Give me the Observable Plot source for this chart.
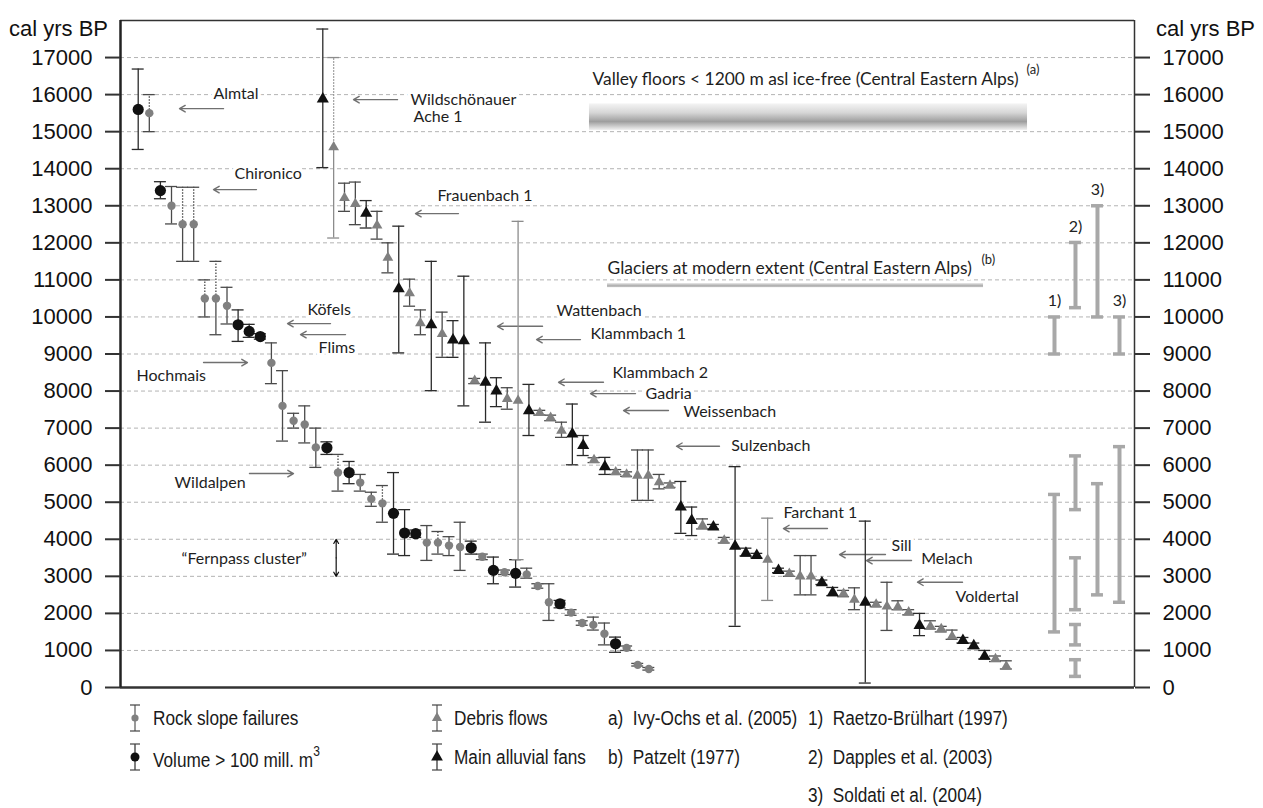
<!DOCTYPE html>
<html><head><meta charset="utf-8">
<script src="https://cdn.jsdelivr.net/npm/d3@7"></script>
<script src="https://cdn.jsdelivr.net/npm/@observablehq/plot@0.6"></script>
<style>
body{margin:0;background:#fff;}
#wrap{position:relative;width:1263px;height:808px;overflow:hidden;background:#fff;}
.lg{position:absolute;font-family:"Liberation Sans Narrow","Liberation Sans",sans-serif;font-size:20px;color:#1a1a1a;line-height:22px;white-space:nowrap;transform:translateY(-50%) scaleX(0.86);transform-origin:left center;}
.lg sup{font-size:14px;position:relative;top:-3px;}
.ic{position:absolute;transform:translate(-50%,-50%);}
</style></head><body><div id="wrap"></div>
<script>
// ---------- DATA ----------
// Rock slope failures (ordered as plotted), ages in cal yrs BP
const rockAge = [15600,15500,13410,13000,12500,12500,10500,10500,10300,9790,9610,9470,8760,7600,7200,7100,6480,6470,5800,5800,5530,5090,4970,4700,4170,4150,3910,3910,3830,3790,3770,3530,3160,3110,3080,3050,2740,2300,2260,2020,1740,1690,1450,1180,1070,610,500];
const rockMax = [16690,16000,13650,13520,13500,13500,11000,11500,10800,10190,9800,9550,9300,8550,7400,7600,7000,6630,6290,6100,5750,5270,5450,5800,4800,4250,4370,4210,4070,4460,3950,3600,3520,3170,3450,3220,2800,2800,2350,2100,1800,1900,1740,1360,1120,650,540];
const rockMin = [14520,15000,13190,12510,11500,11500,10000,9520,9810,9340,9450,9400,8200,6650,7000,6600,5940,6290,5300,5500,5300,4890,4460,3600,3560,4050,3430,3600,3560,3160,3600,3450,2800,3050,2710,2950,2680,1810,2150,1950,1680,1550,1150,950,1000,580,470];
const rockLarge = [0,2,9,10,11,17,19,23,24,25,30,32,34,38,43];   // volume > 100 mill. m3
const rockDotted = [1,4,5,6,7,18,22,27];                         // upper range dotted

// Debris flows / main alluvial fans
const debrisAge = [15880,14580,13210,13050,12800,12470,11600,10760,10640,9830,9790,9540,9380,9360,8280,8240,8000,7790,7740,7470,7410,7280,6930,6840,6530,6140,5960,5810,5750,5720,5720,5540,5450,4870,4510,4370,4330,3970,3810,3620,3560,3450,3160,3070,3000,3000,2830,2560,2530,2370,2300,2240,2190,2170,2030,1670,1650,1580,1380,1270,1130,840,770,570];
const debrisMax = [17770,17000,13610,13640,13140,12850,12000,12450,11020,10190,11500,10130,9900,11100,8340,9300,8360,8090,12580,8180,7480,7350,7160,7650,6800,6200,6210,5880,5820,6410,6410,5750,5520,5560,4870,4550,4400,4050,5960,3760,3620,4570,3220,3140,3560,3560,2900,2700,2620,2690,4490,2300,2840,2340,2100,2000,1800,1650,1550,1350,1200,1000,850,720];
const debrisMin = [14030,12130,12850,12490,12400,12100,11190,9030,10290,9520,8010,8910,8910,7600,8200,7160,7580,7510,3450,6800,7350,7200,6750,6010,6260,6070,5750,5750,5700,5050,5050,5360,5400,4160,4100,4280,4280,3900,1650,3550,3500,2350,3100,3000,2500,2500,2780,2480,2450,2100,120,2180,1540,2100,1960,1400,1580,1500,1300,1200,1050,770,700,500];
const debrisMain = [0,4,7,10,12,13,15,16,19,23,24,26,33,34,36,38,39,40,42,46,47,50,55,59,60,61];
const debrisDotted = [1];
const debrisLightBar = [1,18,41];

// Reference ranges on the right (column = source)
const refCol  = [0,0,1,1,1,1,1,2,2,3,3];
const refLow  = [9000,1500,10250,4800,2100,1150,300,10000,2500,9000,2300];
const refHigh = [10000,5210,12010,6250,3500,1700,750,13000,5500,10000,6500];
const refColLabel = ["1)","2)","3)","3)"];

// Y axis ticks
const yTicks = d3.range(0, 18000, 1000);
const gridTicks = d3.range(1000, 18000, 1000);

// Annotations (label, x in slot units = left edge, y in cal yrs BP)
const annLabel = ["Almtal","Chironico","Wildschönauer","Ache 1","Frauenbach 1","Köfels","Flims","Hochmais","Wildalpen","\u201CFernpass cluster\u201D","Wattenbach","Klammbach 1","Klammbach 2","Gadria","Weissenbach","Sulzenbach","Farchant 1","Sill","Melach","Voldertal"];
const annX = [9.17,11.24,28.6,28.9,31.26,18.44,19.53,1.58,5.33,6.02,43.0,46.35,48.52,51.78,55.52,60.23,65.38,76.04,78.97,82.35];
const annY = [16030,13868,15864,15406,13274,10198,9173,8418,5531,3480,10161,9540,8499,7932,7447,6510,4722,3831,3480,2436];
// Arrows (from x1 to x2 at y)
const arrX1 = [10.16,13.41,27.32,33.33,20.71,22.19,8.19,12.72,41.62,45.36,47.63,50.79,54.04,59.07,69.72,75.44,78.01,83.04];
const arrX2 = [5.82,9.17,22.98,29.09,16.47,17.75,12.52,17.06,37.18,41.03,43.2,46.35,49.61,54.83,65.38,70.91,73.57,78.6];
const arrY  = [15621,13436,15864,12789,9821,9524,8769,5774,9748,9389,8237,7932,7474,6510,4290,3588,3426,2841];
// Headers with bands
const headLabel = ["Valley floors < 1200 m asl ice-free (Central Eastern Alps)","Glaciers at modern extent (Central Eastern Alps)"];
const headSup = ["(a)","(b)"];
const headX = [46.55,48.03];
const headSupX = [89.35,84.9];
const headY = [16404,11305];
const headSupY = [16660,11540];
const bandX1 = [46.25,48.03], bandX2 = [89.45,85.11], bandY1 = [15030,10790], bandY2 = [15750,10900];
const fernpassX = 21.27, fernpassRange = [3000,4000];

// ---------- LAYOUT ----------
const rockStart = 1.746, rockStep = 1.0947;
const debrisStart = 19.95, debrisStep = 1.070;
const refColX = [92.11,94.18,96.35,98.52];
const cap = 0.59;
const GRAY = "#808080", BLACK = "#111111", BARDARK = "#2a2a2a", BARGRAY = "#8c8c8c";

const rock = rockAge.map((v,i)=>({x: rockStart+i*rockStep, y:v, lo:rockMin[i], hi:rockMax[i],
  big: rockLarge.includes(i), dotted: rockDotted.includes(i), light:false}));
const debris = debrisAge.map((v,i)=>({x: debrisStart+i*debrisStep, y:v, lo:debrisMin[i], hi:debrisMax[i],
  big: debrisMain.includes(i), dotted: debrisDotted.includes(i), light: debrisLightBar.includes(i)}));
const all = rock.concat(debris);
const barColor = d => d.light ? BARGRAY : (d.big ? BARDARK : "#4a4a4a");

const refs = refLow.map((lo,i)=>({x: refColX[refCol[i]], lo, hi: refHigh[i]}));
const refLabels = refColLabel.map((t,c)=>({t, x: refColX[c], y: refHigh[refCol.indexOf(c)]}));

const anns = annLabel.map((t,i)=>({t, x: annX[i], y: annY[i]}));
const arrows = arrX1.map((x1,i)=>({x1, x2: arrX2[i], y: arrY[i]}));
const heads = headLabel.map((t,i)=>({t, x: headX[i], y: headY[i], s: headSup[i], sx: headSupX[i], sy: headSupY[i]}));
const bands = bandX1.map((x1,i)=>({x1, x2: bandX2[i], y1: bandY1[i], y2: bandY2[i], g: i===0 ? "url(#gValley)" : "url(#gGlacier)"}));

const axisOpts = {ticks: yTicks, tickSize: 15, tickPadding: 13, tickFormat: d=>String(d), label: null,
  fontSize: 22, stroke: "#333", strokeWidth: 2, fill: "#111"};

const chart = Plot.plot({
  width: 1263, height: 700,
  marginLeft: 120, marginRight: 129, marginTop: 20, marginBottom: 13,
  style: {fontFamily: "Liberation Sans, Arial, sans-serif", background: "#fff"},
  x: {domain: [0,100], axis: null},
  y: {domain: [0,18000]},
  color: {type: "identity"},
  marks: [
    Plot.ruleY(gridTicks, {stroke: "#b3b3b3", strokeWidth: 1, strokeDasharray: "4,3"}),
    // header bands
    Plot.rect(bands, {x1:"x1", x2:"x2", y1:"y1", y2:"y2", fill: "g"}),
    // annotation texts with white halo
    Plot.text(anns, {x:"x", y:"y", text:"t", textAnchor: "start",
      fontFamily: "Lato, Open Sans, sans-serif", fontSize: 16, fill: "#1e1e1e", stroke: "white", strokeWidth: 7}),
    Plot.text(heads, {x:"x", y:"y", text:"t", textAnchor:"start", fontFamily:"Lato, Open Sans, sans-serif", fontSize: 17.4,
      fill:"#1e1e1e", stroke:"white", strokeWidth: 7}),
    Plot.text(heads, {x:"sx", y:"sy", text:"s", textAnchor:"start", fontFamily:"Lato, Open Sans, sans-serif", fontSize: 13, fill:"#1e1e1e"}),
    // arrows
    Plot.arrow(arrows, {x1:"x1", x2:"x2", y1:"y", y2:"y", stroke:"#707070", strokeWidth: 1.4, headLength: 7}),
    Plot.arrow([fernpassRange[0], fernpassRange[1]], {x1: fernpassX, x2: fernpassX, y1: (fernpassRange[0]+fernpassRange[1])/2, y2: d=>d,
      stroke: "#111", strokeWidth: 1.2, headLength: 6}),
    // reference ranges (right)
    Plot.ruleX(refs, {x:"x", y1:"lo", y2:"hi", stroke:"#a8a8a8", strokeWidth: 4}),
    Plot.ruleY(refs, {y:"lo", x1: d=>d.x-cap, x2: d=>d.x+cap, stroke:"#a8a8a8", strokeWidth: 3.5}),
    Plot.ruleY(refs, {y:"hi", x1: d=>d.x-cap, x2: d=>d.x+cap, stroke:"#a8a8a8", strokeWidth: 3.5}),
    Plot.text(refLabels, {x:"x", y:"y", text:"t", dy: -16, fontFamily:"Lato, Open Sans, sans-serif", fontSize: 16, fill:"#222"}),
    // error bars
    Plot.ruleX(all, {x:"x", y1:"lo", y2:"y", stroke: barColor, strokeWidth: 1.3}),
    Plot.ruleX(all.filter(d=>!d.dotted), {x:"x", y1:"y", y2:"hi", stroke: barColor, strokeWidth: 1.3}),
    Plot.ruleX(all.filter(d=>d.dotted), {x:"x", y1:"y", y2:"hi", stroke: barColor, strokeWidth: 1.3, strokeDasharray: "1.5,1.5"}),
    Plot.ruleY(all, {y:"hi", x1: d=>d.x-cap, x2: d=>d.x+cap, stroke: barColor, strokeWidth: 1.3}),
    Plot.ruleY(all, {y:"lo", x1: d=>d.x-cap, x2: d=>d.x+cap, stroke: barColor, strokeWidth: 1.3}),
    // points
    Plot.dot(rock.filter(d=>!d.big), {x:"x", y:"y", r: 4.2, fill: GRAY, stroke: "none"}),
    Plot.dot(rock.filter(d=>d.big), {x:"x", y:"y", r: 5.6, fill: BLACK, stroke: "none"}),
    Plot.dot(debris.filter(d=>!d.big), {x:"x", y:"y", r: 4.0, symbol: "triangle", fill: GRAY, stroke: "none"}),
    Plot.dot(debris.filter(d=>d.big), {x:"x", y:"y", r: 4.5, symbol: "triangle", fill: BLACK, stroke: "none"}),
    // frame
    Plot.ruleY([18000], {stroke:"#333", strokeWidth: 1.5}),
    Plot.ruleY([0], {stroke:"#333", strokeWidth: 2.5}),
    Plot.ruleX([0], {stroke:"#222", strokeWidth: 2.5}),
    Plot.ruleX([100], {stroke:"#333", strokeWidth: 1.5}),
    // axes
    Plot.axisY({...axisOpts, anchor: "left"}),
    Plot.axisY({...axisOpts, anchor: "right"}),
    Plot.text(["cal yrs BP"], {frameAnchor: "top-left", dx: -62, dy: 0, textAnchor: "middle", fontSize: 22, fill: "#111"}),
    Plot.text(["cal yrs BP"], {frameAnchor: "top-right", dx: 71, dy: 0, textAnchor: "middle", fontSize: 22, fill: "#111"})
  ]
});

const svg = chart.tagName.toLowerCase() === "svg" ? chart : chart.querySelector("svg");
const defs = document.createElementNS("http://www.w3.org/2000/svg", "defs");
defs.innerHTML = `
<linearGradient id="gValley" x1="0" y1="0" x2="0" y2="1">
  <stop offset="0" stop-color="#f4f4f4"/><stop offset="0.35" stop-color="#d6d6d6"/>
  <stop offset="0.68" stop-color="#9e9e9e"/><stop offset="1" stop-color="#f2f2f2"/>
</linearGradient>
<linearGradient id="gGlacier" x1="0" y1="0" x2="0" y2="1">
  <stop offset="0" stop-color="#e4e4e4"/><stop offset="0.7" stop-color="#a9a9a9"/><stop offset="1" stop-color="#d2d2d2"/>
</linearGradient>`;
svg.insertBefore(defs, svg.firstChild);
svg.style.position = "absolute"; svg.style.left = "0"; svg.style.top = "0";
const wrap = document.getElementById("wrap");
wrap.appendChild(chart);

// ---------- LEGEND (HTML below the SVG) ----------
const legendSymbols = [
  {label: "Rock slope failures", sym: "circle", fill: GRAY, col: 0, row: 0},
  {label: "Volume > 100 mill. m", sup: "3", sym: "circle", fill: BLACK, col: 0, row: 1},
  {label: "Debris flows", sym: "triangle", fill: GRAY, col: 1, row: 0},
  {label: "Main alluvial fans", sym: "triangle", fill: BLACK, col: 1, row: 1}
];
const legendRefs = [
  {label: "a)\u00A0\u00A0Ivy-Ochs et al. (2005)", col: 2, row: 0},
  {label: "b)\u00A0\u00A0Patzelt (1977)", col: 2, row: 1},
  {label: "1)\u00A0\u00A0Raetzo-Brülhart (1997)", col: 3, row: 0},
  {label: "2)\u00A0\u00A0Dapples et al. (2003)", col: 3, row: 1},
  {label: "3)\u00A0\u00A0Soldati et al. (2004)", col: 3, row: 2}
];
const colTextX = [153, 454, 608, 808], colIconX = [135, 437], rowY = [718, 757, 795];
function addText(item){
  const d = document.createElement("div");
  d.className = "lg";
  d.style.left = colTextX[item.col] + "px";
  d.style.top = rowY[item.row] + "px";
  d.textContent = item.label;
  if (item.sup){ const s = document.createElement("sup"); s.textContent = item.sup; d.appendChild(s); }
  wrap.appendChild(d);
}
legendSymbols.forEach(item=>{
  addText(item);
  const s = d3.create("svg").attr("class","ic").attr("width",16).attr("height",30)
    .style("left", colIconX[item.col]+"px").style("top", rowY[item.row]+"px");
  s.append("line").attr("x1",8).attr("x2",8).attr("y1",2).attr("y2",28).attr("stroke", item.fill===BLACK?BARDARK:"#555").attr("stroke-width",1.2);
  s.append("line").attr("x1",3).attr("x2",13).attr("y1",2).attr("y2",2).attr("stroke","#444").attr("stroke-width",1.2);
  s.append("line").attr("x1",3).attr("x2",13).attr("y1",28).attr("y2",28).attr("stroke","#444").attr("stroke-width",1.2);
  if (item.sym === "circle") s.append("circle").attr("cx",8).attr("cy",15).attr("r", item.fill===BLACK?4.5:3.6).attr("fill", item.fill);
  else s.append("path").attr("transform","translate(8,15)").attr("d", d3.symbol(d3.symbolTriangle, item.fill===BLACK?60:45)()).attr("fill", item.fill);
  wrap.appendChild(s.node());
});
legendRefs.forEach(addText);
</script></body></html>
